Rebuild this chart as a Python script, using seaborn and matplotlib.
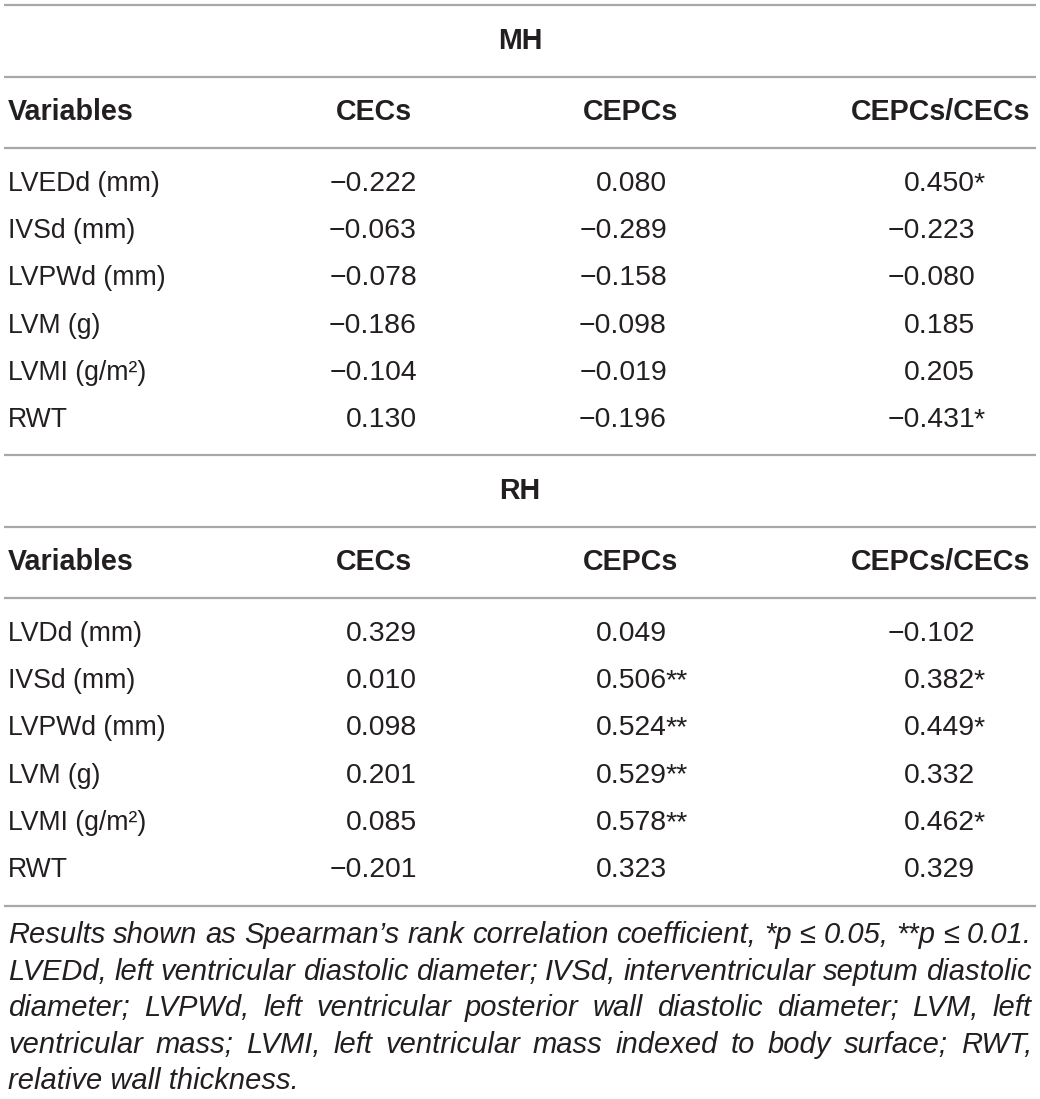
import numpy as np
import matplotlib
matplotlib.use("Agg")
import matplotlib.pyplot as plt
import seaborn as sns

# datos de la tabla
grupos = ["MH", "RH"]
columnas = ["Variables", "CECs", "CEPCs", "CEPCs/CECs"]

variables_mh = ["LVEDd (mm)", "IVSd (mm)", "LVPWd (mm)", "LVM (g)", "LVMI (g/m²)", "RWT"]
mh_cecs = [-0.222, -0.063, -0.078, -0.186, -0.104, 0.130]
mh_cepcs = [0.080, -0.289, -0.158, -0.098, -0.019, -0.196]
mh_ratio = [0.450, -0.223, -0.080, 0.185, 0.205, -0.431]
mh_cecs_sig = ["", "", "", "", "", ""]
mh_cepcs_sig = ["", "", "", "", "", ""]
mh_ratio_sig = ["*", "", "", "", "", "*"]

variables_rh = ["LVDd (mm)", "IVSd (mm)", "LVPWd (mm)", "LVM (g)", "LVMI (g/m²)", "RWT"]
rh_cecs = [0.329, 0.010, 0.098, 0.201, 0.085, -0.201]
rh_cepcs = [0.049, 0.506, 0.524, 0.529, 0.578, 0.323]
rh_ratio = [-0.102, 0.382, 0.449, 0.332, 0.462, 0.329]
rh_cecs_sig = ["", "", "", "", "", ""]
rh_cepcs_sig = ["", "**", "**", "**", "**", ""]
rh_ratio_sig = ["", "*", "*", "", "*", ""]

nota = [
    "Results shown as Spearman’s rank correlation coefficient, *p ≤ 0.05, **p ≤ 0.01.",
    "LVEDd, left ventricular diastolic diameter; IVSd, interventricular septum diastolic",
    "diameter; LVPWd, left ventricular posterior wall diastolic diameter; LVM, left",
    "ventricular mass; LVMI, left ventricular mass indexed to body surface; RWT,",
    "relative wall thickness.",
]

sns.set_theme(style="white")
plt.rcParams["font.family"] = ["Liberation Sans", "DejaVu Sans"]

W, H = 1040, 1099
fig = plt.figure(figsize=(W / 100, H / 100), dpi=100)
ax = fig.add_axes([0, 0, 1, 1])
ax.set_xlim(0, W)
ax.set_ylim(H, 0)
ax.axis("off")

color_texto = "#231f20"
color_linea = "#a8a8a8"
fs_var = 19.2
fs_num = 20.4
fs_head = 20.6

# posiciones de columnas (borde derecho de los numeros)
x_var = 8
x_num = [417, 667, 975]
x_head = [(412, "right"), (631, "center"), (1030, "right")]


def regla(y):
    ax.plot([4, 1036], [y, y], color=color_linea, lw=1.6, solid_capstyle="butt")


def numero(v):
    return f"{v:.3f}".replace("-", "−")


def bloque(y0, grupo, variables, cols, sigs):
    regla(y0)
    ax.text(520, y0 + 36, grupo, fontsize=fs_head, fontweight="bold", color=color_texto,
            ha="center", va="center")
    regla(y0 + 72)
    ax.text(x_var, y0 + 107, columnas[0], fontsize=fs_head, fontweight="bold",
            color=color_texto, ha="left", va="center")
    for (xh, al), nombre in zip(x_head, columnas[1:]):
        ax.text(xh, y0 + 107, nombre, fontsize=fs_head, fontweight="bold",
                color=color_texto, ha=al, va="center")
    regla(y0 + 143)
    for i, var in enumerate(variables):
        y = y0 + 179 + i * 47.2
        ax.text(x_var, y, var, fontsize=fs_var, color=color_texto, ha="left", va="center")
        for j in range(3):
            ax.text(x_num[j], y, numero(cols[j][i]), fontsize=fs_num, color=color_texto,
                    ha="right", va="center")
            if sigs[j][i]:
                ax.text(x_num[j] - 2, y, sigs[j][i], fontsize=fs_num,
                        color=color_texto, ha="left", va="center")


bloque(5, grupos[0], variables_mh, [mh_cecs, mh_cepcs, mh_ratio],
       [mh_cecs_sig, mh_cepcs_sig, mh_ratio_sig])
bloque(455, grupos[1], variables_rh, [rh_cecs, rh_cepcs, rh_ratio],
       [rh_cecs_sig, rh_cepcs_sig, rh_ratio_sig])
regla(906)

# nota al pie justificada; el tamano se ajusta para que la primera linea llene el ancho
renderer = fig.canvas.get_renderer()
x_ini, x_fin = 8, 1032
prueba = ax.text(0, 0, nota[0], fontsize=18.8, style="italic")
ancho0 = prueba.get_window_extent(renderer).width
prueba.remove()
fs_nota = 18.8 * (x_fin - x_ini) / ancho0

for k, linea in enumerate(nota):
    y = 935 + k * 36.6
    palabras = linea.split(" ")
    if k == len(nota) - 1:
        ax.text(x_ini, y, linea, fontsize=fs_nota, style="italic", color=color_texto,
                ha="left", va="center")
        continue
    objs = [ax.text(0, y, p, fontsize=fs_nota, style="italic", color=color_texto,
                    ha="left", va="center") for p in palabras]
    anchos = [o.get_window_extent(renderer).width for o in objs]
    hueco = (x_fin - x_ini - sum(anchos)) / (len(palabras) - 1)
    x = x_ini
    for o, a in zip(objs, anchos):
        o.set_x(x)
        x += a + hueco

fig.savefig("out.png", dpi=100)
